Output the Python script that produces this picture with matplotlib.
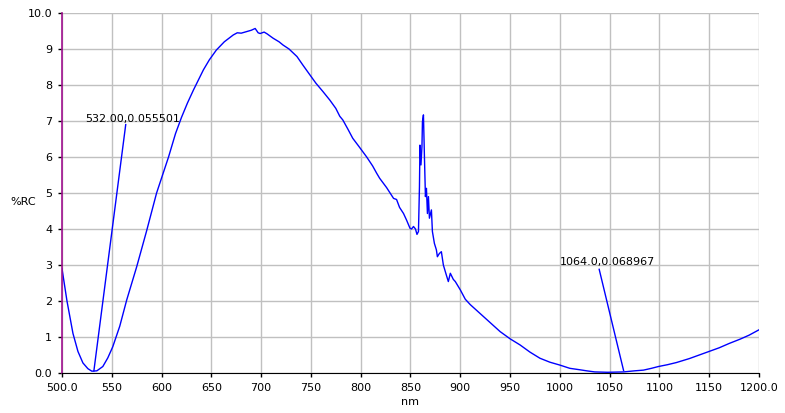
import matplotlib
matplotlib.use("Agg")
import matplotlib.pyplot as plt

# spectrum
nm = [500, 505, 511, 516, 521, 526, 530, 532, 535, 541, 546, 551, 558, 565, 575,
      585, 595, 607, 614, 620, 626, 632, 642, 648, 655, 663, 672, 676, 680, 685,
      690, 694, 697, 699, 703, 706, 712, 718, 722, 728, 736, 742, 749, 755, 762,
      769, 775, 779, 782, 787, 792, 798, 806, 812, 816, 819, 826, 833, 836, 839,
      843, 846, 849.5, 851, 853, 855, 856.5, 858, 859, 859.5, 860.5, 861.5, 862,
      863, 864, 865, 866, 867, 868, 869, 871, 872, 874, 876, 877, 879, 881, 883,
      886, 888, 890, 893, 895, 900, 905, 910, 920, 930, 940, 950, 960, 970, 980,
      990, 1000, 1010, 1020, 1027, 1035, 1048, 1064, 1075, 1084, 1092, 1099,
      1108, 1117, 1130, 1140, 1149, 1160, 1170, 1181, 1190, 1198, 1200]
rc = [2.9, 2.0, 1.1, 0.6, 0.28, 0.12, 0.05, 0.055, 0.06, 0.18, 0.42, 0.73, 1.3,
      2.03, 2.95, 3.95, 5.0, 6.0, 6.65, 7.1, 7.5, 7.86, 8.42, 8.7, 8.97, 9.2,
      9.39, 9.45, 9.44, 9.48, 9.52, 9.57, 9.45, 9.43, 9.47, 9.42, 9.3, 9.2, 9.11,
      9.0, 8.79, 8.55, 8.28, 8.05, 7.82, 7.58, 7.35, 7.13, 7.03, 6.78, 6.52, 6.3,
      6.0, 5.75, 5.55, 5.41, 5.15, 4.85, 4.82, 4.6, 4.43, 4.25, 4.02, 4.0, 4.07,
      4.0, 3.85, 3.93, 5.18, 6.33, 5.78, 6.29, 6.98, 7.17, 6.0, 4.9, 5.13, 4.43,
      4.9, 4.3, 4.53, 3.93, 3.6, 3.42, 3.23, 3.32, 3.37, 3.0, 2.72, 2.54, 2.77,
      2.6, 2.54, 2.31, 2.05, 1.9, 1.65, 1.4, 1.15, 0.95, 0.78, 0.58, 0.41, 0.3,
      0.22, 0.13, 0.09, 0.06, 0.03, 0.02, 0.03, 0.06, 0.08, 0.13, 0.18, 0.23,
      0.29, 0.4, 0.5, 0.59, 0.7, 0.82, 0.94, 1.05, 1.17, 1.2]

# cursor markers: point, line end, text
mark_x = [532.0, 1064.0]
mark_y = [0.055501, 0.068967]
mark_labels = ["532.00,0.055501", "1064.0,0.068967"]
line_end_x = [564, 1039.5]
line_end_y = [6.9, 2.88]
text_x = [523, 999.5]
text_y = [7.05, 3.08]

x_ticks = list(range(500, 1201, 50))
x_labels = ["500.0"] + [str(v) for v in x_ticks[1:-1]] + ["1200.0"]
y_ticks = list(range(0, 11))
y_labels = ["0.0"] + [str(v) for v in y_ticks[1:-1]] + ["10.0"]

plt.rcParams["font.family"] = ["DejaVu Sans"]
fig = plt.figure(figsize=(7.85, 4.13), dpi=100)
ax = fig.add_axes([62 / 785, 40 / 413, 697 / 785, 360 / 413])

ax.plot(nm, rc, color="#0000ff", lw=1)
for i in range(len(mark_x)):
    ax.plot([mark_x[i], line_end_x[i]], [mark_y[i], line_end_y[i]],
            color="#0000ff", lw=1)
    ax.text(text_x[i], text_y[i], mark_labels[i], fontsize=8, color="black",
            ha="left", va="center")

ax.set_xlim(500, 1200)
ax.set_ylim(0, 10)
ax.set_xticks(x_ticks)
ax.set_xticklabels(x_labels)
ax.set_yticks(y_ticks)
ax.set_yticklabels(y_labels)
ax.tick_params(labelsize=8, length=3, width=1, color="black", pad=4)
ax.grid(True, color="#c0c0c0", lw=1)
ax.set_axisbelow(True)

ax.spines["top"].set_visible(False)
ax.spines["right"].set_visible(False)
ax.spines["left"].set_color("#a0108f")
ax.spines["left"].set_linewidth(1.2)
ax.spines["bottom"].set_color("black")

ax.set_xlabel("nm", fontsize=8, labelpad=3)
ax.set_ylabel("%RC", fontsize=8, rotation=0, ha="center", va="center")
ax.yaxis.set_label_coords(-0.055, 0.476)

fig.savefig("out.png", dpi=100)
